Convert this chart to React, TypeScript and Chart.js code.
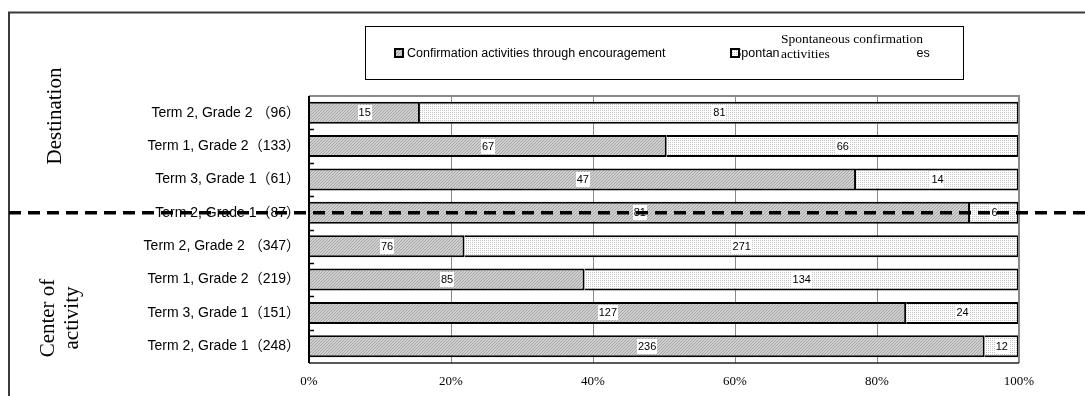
import { useEffect, useRef } from 'react';
import { Chart, registerables } from 'chart.js';

Chart.register(...registerables);

// Rows from top to bottom; the number in brackets is the row total.
const categories = [
  'Term 2, Grade 2 （96）',
  'Term 1, Grade 2（133）',
  'Term 3, Grade 1（61）',
  'Term 2, Grade 1（87）',
  'Term 2, Grade 2 （347）',
  'Term 1, Grade 2（219）',
  'Term 3, Grade 1（151）',
  'Term 2, Grade 1（248）',
];
const encouragedCounts = [15, 67, 47, 81, 76, 85, 127, 236];
const spontaneousCounts = [81, 66, 14, 6, 271, 134, 24, 12];
const seriesNames = [
  'Confirmation activities through encouragement',
  'Spontaneous confirmation activities',
];
const overlayLines = ['Spontaneous confirmation', 'activities'];
const xTickValues = [0, 20, 40, 60, 80, 100];
const groupDestination = ['Destination'];
const groupCenter = ['Center of', 'activity'];
const dividerRow = 3;

const SANS = "'Liberation Sans', Arial, 'Noto Sans CJK JP', sans-serif";
const SERIF = "'Liberation Serif', 'Times New Roman', serif";

const toPercent = (part: number[], other: number[]) =>
  part.map((v, i) => (v / (v + other[i])) * 100);

function hatchPattern(ctx: CanvasRenderingContext2D): CanvasPattern {
  const c = document.createElement('canvas');
  c.width = 3;
  c.height = 3;
  const g = c.getContext('2d')!;
  g.fillStyle = '#d0d0d0';
  g.fillRect(0, 0, 3, 3);
  g.fillStyle = '#a6a6a6';
  for (let i = 0; i < 3; i++) g.fillRect(i, 2 - i, 1, 1);
  return ctx.createPattern(c, 'repeat')!;
}

function dotPattern(ctx: CanvasRenderingContext2D): CanvasPattern {
  const c = document.createElement('canvas');
  c.width = 2;
  c.height = 2;
  const g = c.getContext('2d')!;
  g.fillStyle = '#ffffff';
  g.fillRect(0, 0, 2, 2);
  g.fillStyle = '#c4c4c4';
  g.fillRect(0, 0, 1, 1);
  return ctx.createPattern(c, 'repeat')!;
}

export default function App() {
  const canvasRef = useRef<HTMLCanvasElement | null>(null);

  useEffect(() => {
    const canvas = canvasRef.current;
    if (!canvas) return;
    const ctx0 = canvas.getContext('2d')!;
    const fills = [hatchPattern(ctx0), dotPattern(ctx0)];
    const countSets = [encouragedCounts, spontaneousCounts];

    // Plot frame, category boundary ticks and value labels in white boxes
    const barDecor = {
      id: 'barDecor',
      afterDatasetsDraw(chart: any) {
        const { ctx, chartArea: a, scales } = chart;
        const y = scales.y;
        ctx.save();
        ctx.strokeStyle = '#8a8a8a';
        ctx.lineWidth = 2;
        ctx.beginPath();
        ctx.moveTo(a.left, a.top);
        ctx.lineTo(a.right, a.top);
        ctx.lineTo(a.right, a.bottom);
        ctx.stroke();
        ctx.strokeStyle = '#222';
        ctx.lineWidth = 1.5;
        ctx.beginPath();
        ctx.moveTo(a.left, a.bottom);
        ctx.lineTo(a.right, a.bottom);
        ctx.stroke();
        ctx.strokeStyle = '#000';
        ctx.lineWidth = 2;
        ctx.beginPath();
        ctx.moveTo(a.left, a.top);
        ctx.lineTo(a.left, a.bottom);
        ctx.stroke();
        const step = (y.bottom - y.top) / categories.length;
        ctx.lineWidth = 1.5;
        for (let k = 1; k < categories.length; k++) {
          const yy = Math.round(y.top + k * step) + 0.5;
          ctx.beginPath();
          ctx.moveTo(a.left, yy);
          ctx.lineTo(a.left + 5, yy);
          ctx.stroke();
        }
        ctx.font = `11px ${SANS}`;
        ctx.textAlign = 'center';
        ctx.textBaseline = 'middle';
        chart.data.datasets.forEach((_: any, d: number) => {
          const meta = chart.getDatasetMeta(d);
          meta.data.forEach((bar: any, i: number) => {
            const txt = String(countSets[d][i]);
            const cx = (bar.x + bar.base) / 2;
            const cy = bar.y;
            const w = ctx.measureText(txt).width + 2;
            ctx.fillStyle = '#fff';
            ctx.fillRect(Math.round(cx - w / 2), Math.round(cy - 7.5), Math.round(w), 15);
            ctx.fillStyle = '#000';
            ctx.fillText(txt, cx, cy + 0.5);
          });
        });
        ctx.restore();
      },
    };

    // Legend, group captions, outer frame and the dashed group divider
    const overlay = {
      id: 'overlay',
      afterDraw(chart: any) {
        const { ctx, scales } = chart;
        ctx.save();
        ctx.strokeStyle = '#3a3a3a';
        ctx.lineWidth = 2;
        ctx.beginPath();
        ctx.moveTo(9, 396);
        ctx.lineTo(9, 12.5);
        ctx.lineTo(1085, 12.5);
        ctx.stroke();

        // legend box
        ctx.strokeStyle = '#000';
        ctx.lineWidth = 1;
        ctx.strokeRect(365.5, 26.5, 598, 53);
        const markerX = [394, 730];
        const textX = [407, 733];
        ctx.font = `12.5px ${SANS}`;
        ctx.textAlign = 'left';
        ctx.textBaseline = 'middle';
        seriesNames.forEach((name, d) => {
          ctx.fillStyle = '#000';
          ctx.fillText(name, textX[d], 53.5);
        });
        // caption box laid over the middle of the second legend entry
        const full = ctx.measureText(seriesNames[1]).width;
        const head = ctx.measureText('Spontan').width;
        const tail = ctx.measureText('es').width;
        const boxL = Math.round(textX[1] + head);
        const boxR = Math.round(textX[1] + full - tail);
        ctx.fillStyle = '#fff';
        ctx.fillRect(boxL, 30, boxR - boxL, 32);
        seriesNames.forEach((_, d) => {
          ctx.fillStyle = '#000';
          ctx.fillRect(markerX[d], 48, 10, 10);
          ctx.fillStyle = fills[d];
          ctx.fillRect(markerX[d] + 2, 50, 6, 6);
        });
        ctx.fillStyle = '#000';
        ctx.font = `13.5px ${SERIF}`;
        ctx.fillText(overlayLines[0], boxL + 1, 39);
        ctx.fillText(overlayLines[1], boxL + 1, 54);

        // group captions, rotated
        ctx.font = `21px ${SERIF}`;
        ctx.textAlign = 'center';
        ctx.textBaseline = 'middle';
        const drawRotated = (lines: string[], xs: number[], cy: number) => {
          lines.forEach((ln, i) => {
            ctx.save();
            ctx.translate(xs[i], cy);
            ctx.rotate(-Math.PI / 2);
            ctx.fillText(ln, 0, 0);
            ctx.restore();
          });
        };
        drawRotated(groupDestination, [55], 116);
        drawRotated(groupCenter, [48, 72], 318);

        // dashed divider through the boundary row
        const yy = scales.y.getPixelForValue(dividerRow);
        ctx.strokeStyle = '#000';
        ctx.lineWidth = 3.5;
        ctx.setLineDash([12, 7]);
        ctx.beginPath();
        ctx.moveTo(9, yy);
        ctx.lineTo(1085, yy);
        ctx.stroke();
        ctx.restore();
      },
    };

    const chart = new Chart(canvas, {
      type: 'bar',
      data: {
        labels: categories,
        datasets: [
          {
            label: seriesNames[0],
            data: toPercent(encouragedCounts, spontaneousCounts),
            backgroundColor: fills[0],
            borderColor: '#000',
            borderWidth: 2,
            barPercentage: 0.66,
            categoryPercentage: 1,
          },
          {
            label: seriesNames[1],
            data: toPercent(spontaneousCounts, encouragedCounts),
            backgroundColor: fills[1],
            borderColor: '#000',
            borderWidth: 2,
            barPercentage: 0.66,
            categoryPercentage: 1,
          },
        ],
      },
      options: {
        indexAxis: 'y',
        responsive: false,
        animation: false,
        layout: { padding: { left: 0, right: 66, top: 96, bottom: 0 } },
        plugins: {
          legend: { display: false },
          tooltip: { enabled: false },
        },
        scales: {
          x: {
            stacked: true,
            min: 0,
            max: 100,
            afterBuildTicks: (s: any) => {
              s.ticks = xTickValues.map((v) => ({ value: v }));
            },
            ticks: {
              callback: (v: any) => `${v}%`,
              font: { family: SERIF, size: 13 },
              color: '#000',
              padding: 11,
              maxRotation: 0,
            },
            grid: { color: '#8a8a8a', lineWidth: 1, drawTicks: false },
            border: { display: false },
            afterFit: (s: any) => {
              s.height = 33;
            },
          },
          y: {
            stacked: true,
            ticks: {
              font: { family: SANS, size: 14 },
              color: '#000',
              padding: 9,
              autoSkip: false,
            },
            grid: { display: false, drawTicks: false },
            border: { display: false },
            afterFit: (s: any) => {
              s.width = 309;
            },
          },
        },
      },
      plugins: [barDecor, overlay],
    });

    return () => chart.destroy();
  }, []);

  return (
    <div style={{ position: 'fixed', left: 0, top: 0, width: 1085, height: 396, background: '#fff' }}>
      <canvas ref={canvasRef} width={1085} height={396} style={{ display: 'block' }} />
    </div>
  );
}
